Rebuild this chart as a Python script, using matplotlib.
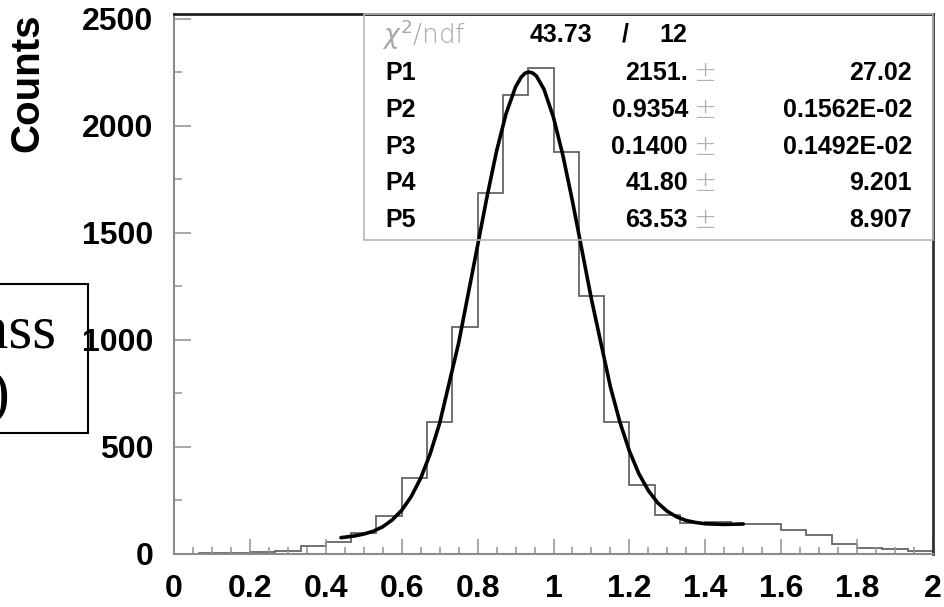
import numpy as np
import matplotlib
matplotlib.use("Agg")
import matplotlib.pyplot as plt
from matplotlib.patches import Rectangle
from matplotlib.ticker import MultipleLocator

# histogram: 30 bins between 0 and 2
bin_lo, bin_hi, n_bins = 0.0, 2.0, 30
counts = [0, 1, 2, 6, 13, 36, 55, 94, 175, 352, 614, 1061, 1685, 2144, 2272,
          1876, 1206, 616, 320, 180, 144, 149, 138, 138, 110, 87, 46, 27, 20, 13]

# fit curve
fit_x = [0.44, 0.475, 0.50, 0.525, 0.55, 0.575, 0.60, 0.625, 0.65, 0.675, 0.70,
         0.75, 0.80, 0.825, 0.85, 0.875, 0.90, 0.915, 0.925, 0.935, 0.945, 0.955,
         0.975, 1.00, 1.025, 1.05, 1.10, 1.15, 1.175, 1.20, 1.225, 1.25, 1.275,
         1.30, 1.325, 1.35, 1.375, 1.40, 1.45, 1.50]
fit_y = [74, 82, 91, 104, 125, 157, 202, 266, 352, 466, 609,
         984, 1440, 1670, 1882, 2057, 2182, 2228, 2246, 2252, 2247, 2233,
         2171, 2039, 1860, 1647, 1189, 779, 614, 479, 373, 294, 236,
         197, 171, 154, 145, 139, 136, 138]

stat_names = ["P1", "P2", "P3", "P4", "P5"]
stat_vals = ["2151.", "0.9354", "0.1400", "41.80", "63.53"]
stat_errs = ["27.02", "0.1562E-02", "0.1492E-02", "9.201", "8.907"]
chi2, ndf = "43.73", "12"

plt.rcParams["font.serif"] = ["Liberation Serif", "DejaVu Serif"]

W, H = 945, 607
fig = plt.figure(figsize=(W / 100, H / 100), dpi=100)
ax = fig.add_axes([174 / W, 1 - 553.5 / H, (933 - 174) / W, (553.5 - 14) / H])

edges = np.linspace(bin_lo, bin_hi, n_bins + 1)
ax.stairs(counts, edges, baseline=None, color="#666666", lw=1.3)
ax.plot(fit_x, fit_y, color="black", lw=2.6, solid_capstyle="round")

ax.set_xlim(0, 2)
ax.set_ylim(0, 2523)
ax.xaxis.set_minor_locator(MultipleLocator(0.05))
ax.yaxis.set_major_locator(MultipleLocator(500))
ax.yaxis.set_minor_locator(MultipleLocator(250))
ax.set_xticks(np.arange(0, 2.01, 0.2))
ax.set_xticklabels(["0", "0.2", "0.4", "0.6", "0.8", "1", "1.2", "1.4", "1.6", "1.8", "2"])

ax.tick_params(axis="both", which="both", direction="in", color="#999999", width=1.2)
ax.tick_params(axis="y", which="major", length=12, pad=15)
ax.tick_params(axis="y", which="minor", length=6)
ax.tick_params(axis="x", which="major", length=11, pad=15)
ax.tick_params(axis="x", which="minor", length=5)
for lab in ax.get_xticklabels() + ax.get_yticklabels():
    lab.set_fontfamily("Liberation Sans")
    lab.set_fontweight("bold")
    lab.set_fontsize(23)

ax.spines["left"].set_color("#8c8c8c")
ax.spines["bottom"].set_color("#8c8c8c")
ax.spines["left"].set_linewidth(1.5)
ax.spines["bottom"].set_linewidth(1.5)
ax.spines["top"].set_color("#222222")
ax.spines["right"].set_color("#333333")
ax.spines["top"].set_linewidth(2)
ax.spines["right"].set_linewidth(2)

fig.text(27 / W, 1 - 83 / H, "Counts", rotation=90, ha="center", va="center",
         fontsize=29, fontweight="bold", family="Liberation Sans")

# stats box
def px(x, y):
    return x / W, 1 - y / H

fig.patches.append(Rectangle(px(364, 240), (933 - 364) / W, (240 - 14) / H,
                             transform=fig.transFigure, fill=False,
                             edgecolor="#b5b5b5", lw=1.2, zorder=1))
sf = dict(family="Liberation Sans", fontweight="bold", fontsize=18, va="center")
fig.text(*px(382, 35), r"$\chi^2$/ndf", color="#a8a8a8", fontsize=19,
         family="DejaVu Sans", fontweight="light", va="center")
fig.text(*px(592, 35), chi2, ha="right", **sf)
fig.text(*px(625, 35), "/", ha="center", **sf)
fig.text(*px(687, 35), ndf, ha="right", **sf)
row_y = [73, 110, 147, 183, 220]
for name, val, err, yy in zip(stat_names, stat_vals, stat_errs, row_y):
    fig.text(*px(385, yy), name, ha="left", **sf)
    fig.text(*px(688, yy), val, ha="right", **sf)
    fig.text(*px(705, yy), "\u00b1", ha="center", va="center", color="#b0b0b0",
             fontsize=20, family="DejaVu Sans", fontweight="light")
    fig.text(*px(912, yy), err, ha="right", **sf)

# cropped label box on the left
fig.patches.append(Rectangle(px(-20, 433), (88 + 20) / W, (433 - 284) / H,
                             transform=fig.transFigure, fill=False,
                             edgecolor="black", lw=1.5))
fig.text(*px(56, 347), "Mass", ha="right", va="baseline", fontsize=44,
         family="serif")
fig.text(*px(10, 412), "(GeV)", ha="right", va="baseline", fontsize=44,
         family="serif")

fig.savefig("out.png", dpi=100)
